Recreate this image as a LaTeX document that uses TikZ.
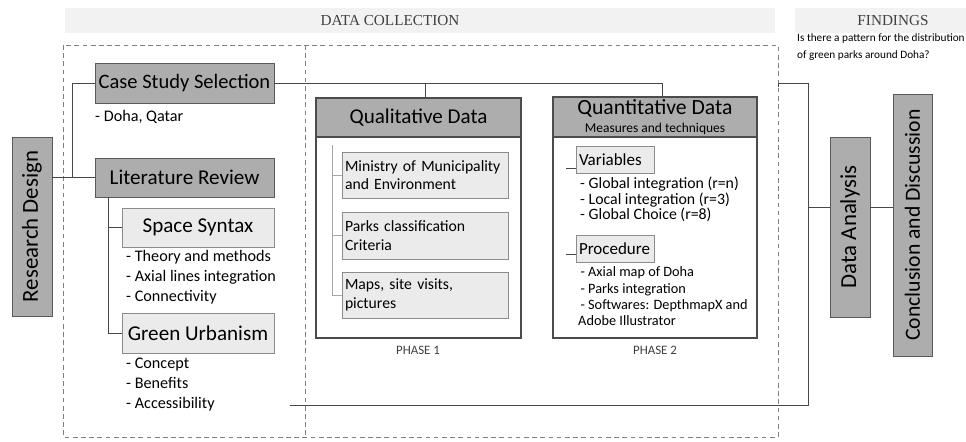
\documentclass[tikz,border=0pt]{standalone}
\usepackage{fontspec}
\usetikzlibrary{calc}
\setmainfont{Carlito}
\newfontfamily\hdfont{Liberation Serif}
\begin{document}
\begin{tikzpicture}[x=0.03cm,y=-0.03cm,
  sz/.style 2 args={minimum width=#1*0.03cm, minimum height=#2*0.03cm},
  darkbox/.style={draw=black!65, fill=black!32, line width=0.8pt, inner sep=0pt},
  lightbox/.style={draw=black!45, fill=black!8, line width=0.7pt, inner sep=0pt},
  outerbox/.style={draw=black!70, fill=white, line width=1.2pt, inner sep=0pt},
  conn/.style={draw=black!72, line width=0.8pt},
  thinline/.style={draw=black!35, line width=0.5pt},
  dashbox/.style={draw=black!50, line width=0.7pt, dash pattern=on 4pt off 3pt},
  band/.style={fill=black!5, draw=none},
  bigtxt/.style={font=\fontsize{18}{21}\selectfont},
  listtxt/.style={font=\fontsize{13.8}{17}\selectfont, align=left, inner sep=0pt},
  qinner/.style={lightbox, font=\fontsize{13.4}{16}\selectfont, align=left, text width=160*0.03cm, inner xsep=3*0.03cm},
  qtxt/.style={font=\fontsize{13.5}{13.2}\selectfont, align=left, inner sep=0pt},
  subbox/.style={lightbox, sz={78}{27}, font=\fontsize{14.5}{15}\selectfont, align=left, text width=72*0.03cm, inner xsep=3*0.03cm},
  hdtxt/.style={font=\hdfont\fontsize{13}{15}\selectfont, text=black!75},
  phasetxt/.style={font=\fontsize{11}{12}\selectfont, text=black!75}
]
\useasboundingbox (0,0) rectangle (966,441);

% header bands
\fill[band] (65,8) rectangle (775,33);
\fill[band] (795,8) rectangle (966,33);
\node[hdtxt] (hdc) at (390,20.5) {DATA COLLECTION};
\node[hdtxt] (hfd) at (893,20.5) {FINDINGS};
\node[font=\fontsize{9.6}{14.5}\selectfont, align=left, anchor=north west, inner sep=0pt] (qst) at (797,33.5)
  {Is there a pattern for the distribution\\of green parks around Doha?};

% dashed frames
\draw[dashbox] (63,45) rectangle (778,437);
\draw[dashbox] (305,45) -- (305,437);

% left column
\node[darkbox, sz={40}{179}] (rd) at (32,226.5) {\rotatebox{90}{\fontsize{19.5}{22}\selectfont Research Design}};
\node[darkbox, sz={179}{40}, font=\fontsize{17.5}{21}\selectfont] (cs) at (184.5,83) {Case Study Selection};
\node[listtxt, anchor=north west] (cst) at (95,110) {- Doha, Qatar};
\node[darkbox, sz={179}{39}, bigtxt] (lr) at (184.5,177.5) {Literature Review};
\node[lightbox, sz={152}{39}, bigtxt] (ss) at (198,227.5) {Space Syntax};
\node[listtxt, anchor=north west] (sst) at (126,250) {- Theory and methods\\- Axial lines integration\\- Connectivity};
\node[lightbox, sz={152}{40}, bigtxt] (gu) at (198,333) {Green Urbanism};
\node[listtxt, anchor=north west] (gut) at (126,357.5) {- Concept\\- Benefits\\- Accessibility};

% qualitative
\node[outerbox, sz={205}{240}] (ql) at (418.5,218) {};
\node[darkbox, sz={205}{39}, bigtxt, draw=black!70, line width=1.2pt] (qlh) at (418.5,117.5) {Qualitative Data};
\node[qinner, sz={166}{46}] (mm) at (425,175) {Ministry of Municipality\\and Environment};
\node[qinner, sz={166}{47}] (pc) at (425,235.5) {Parks classification\\Criteria};
\node[qinner, sz={166}{46}] (mp) at (425,295) {Maps, site visits,\\pictures};
\node[phasetxt] (ph1) at (418,350) {PHASE 1};
\coordinate (qv) at (332,145);
\draw[thinline] (qv) |- (mp.west);
\draw[thinline] (qv |- mm.west) -- (mm.west);
\draw[thinline] (qv |- pc.west) -- (pc.west);

% quantitative
\node[outerbox, sz={204}{241}] (qn) at (655,217.5) {};
\node[darkbox, sz={204}{40}, draw=black!70, line width=1.2pt, align=center, font=\fontsize{11.5}{15}\selectfont] (qnh) at (655,117)
  {{\fontsize{18.5}{15}\selectfont Quantitative Data}\\{\fontsize{11.5}{15}\selectfont Measures and techniques}};
\node[subbox] (var) at (615,159.5) {Variables};
\node[qtxt, anchor=north west] (vart) at (580,177) {- Global integration (r=n)\\- Local integration (r=3)\\- Global Choice (r=8)};
\node[subbox] (proc) at (615,248.5) {Procedure};
\node[qtxt, anchor=north west, font=\fontsize{12.2}{14}\selectfont] (proct) at (578,266.5) {\hspace*{2pt}- Axial map of Doha\\\hspace*{2pt}- Parks integration\\\hspace*{2pt}- Softwares: DepthmapX and\\Adobe Illustrator};
\node[phasetxt] (ph2) at (655,350) {PHASE 2};
\coordinate (vt) at (566,168);
\draw[conn, line width=0.6pt] (vt) -- (vt -| var.west);
\coordinate (pt) at (566,254);
\draw[conn, line width=0.6pt] (pt) -- (pt -| proc.west);

% findings
\node[darkbox, sz={40}{180}] (da) at (850,227) {\rotatebox{90}{\fontsize{19.5}{22}\selectfont Data Analysis}};
\node[darkbox, sz={39}{262}] (cd) at (912.5,225) {\rotatebox{90}{\fontsize{18.5}{22}\selectfont Conclusion and Discussion}};

% connectors
\coordinate (j1) at (72,178);
\draw[conn] (lr.west -| rd.east) -- (lr.west);
\draw[conn] (cs.west) -| (j1);
\coordinate (j2) at (108,197);
\draw[conn] (j2) |- (gu.west);
\draw[conn] (j2 |- ss.west) -- (ss.west);
\coordinate (j3) at (425,83);
\coordinate (j4) at (662,83);
\draw[conn] (cs.east) -- (j4) -- (j4 |- qnh.north);
\draw[conn] (j3) -- (j3 |- qlh.north);
\coordinate (b1) at (778,83);
\coordinate (b2) at (808,83);
\coordinate (b3) at (808,405);
\coordinate (b4) at (290,405);
\draw[conn] ($(b1)+(0,4)$) -- (b1) -- (b2) -- (b3) -- (b4);
\coordinate (bx) at (808,207);
\draw[conn] (bx) -- (bx -| da.west);
\draw[conn] (bx -| da.east) -- (bx -| cd.west);
\end{tikzpicture}
\end{document}
